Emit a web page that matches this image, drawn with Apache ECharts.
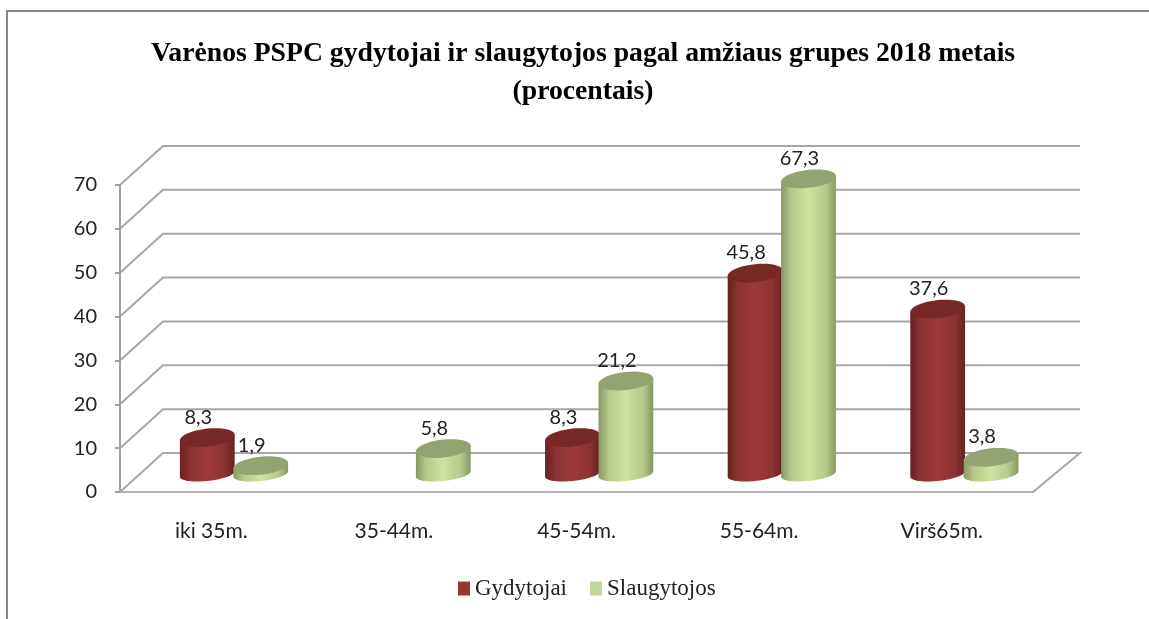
<!DOCTYPE html>
<html>
<head>
<meta charset="utf-8">
<style>
html, body { margin: 0; padding: 0; background: #fff; }
#main { width: 1149px; height: 619px; }
</style>
<script src="https://cdn.jsdelivr.net/npm/echarts@6/dist/echarts.min.js"></script>
</head>
<body>
<div id="main"></div>
<script>
var categories = ['iki 35m.', '35-44m.', '45-54m.', '55-64m.', 'Virš65m.'];
var gydytojai = [8.3, null, 8.3, 45.8, 37.6];
var slaugytojos = [1.9, 5.8, 21.2, 67.3, 3.8];
var yTicks = [0, 10, 20, 30, 40, 50, 60, 70];

var WALL_DX = 43, WALL_DX_RIGHT = 47, WALL_DY = -39;   // back wall offset from the front axis plane
var BAR_DX = 22, BAR_DY = -18;     // cylinders stand in the middle of the floor
var TILT = 0.1, CAP_RY = 9, BASE_RY = 7;
var LABEL_FONT = '20px Lato, sans-serif';

var myChart = echarts.init(document.getElementById('main'));

// sheared ellipse, so the side lines stay vertical at both ends
function ellipseArc(cx, cy, a, ry, from, to) {
    var pts = [];
    for (var i = 0; i <= 40; i++) {
        var t = from + (to - from) * i / 40;
        pts.push([cx + a * Math.cos(t), cy + ry * Math.sin(t) - TILT * a * Math.cos(t)]);
    }
    return pts;
}

function sideGradient(colors) {
    return {
        type: 'linear', x: 0, y: 0, x2: 1, y2: 0,
        colorStops: [
            { offset: 0, color: colors.dark },
            { offset: 0.18, color: colors.mid },
            { offset: 0.5, color: colors.light },
            { offset: 0.82, color: colors.mid },
            { offset: 1, color: colors.dark }
        ]
    };
}

function cylinder(side, colors) {
    return function (params, api) {
        var v = api.value(1);
        if (v === null || isNaN(v)) return null;
        var a = api.size([1, 0])[0] * 0.15;
        var base = api.coord([api.value(0), 0]);
        var top = api.coord([api.value(0), v]);
        var cx = base[0] + BAR_DX + side * a;
        var by = base[1] + BAR_DY;
        var ty = top[1] + BAR_DY;
        var frontArc = ellipseArc(cx, by, a, BASE_RY, Math.PI, 0);
        var topLeft = [cx - a, ty + TILT * a];
        var topRight = [cx + a, ty - TILT * a];
        return {
            type: 'group',
            children: [
                {
                    type: 'polygon',
                    shape: { points: [topLeft].concat(frontArc, [topRight]) },
                    style: { fill: sideGradient(colors) }
                },
                {
                    type: 'polygon',
                    shape: { points: ellipseArc(cx, ty, a, CAP_RY, 0, Math.PI * 2) },
                    style: { fill: colors.cap }
                },
                {
                    type: 'text',
                    z2: 10,
                    style: {
                        x: cx - 9,
                        y: ty - 20.5,
                        text: String(v).replace('.', ','),
                        fill: '#222',
                        font: LABEL_FONT,
                        align: 'center',
                        verticalAlign: 'middle'
                    }
                }
            ]
        };
    };
}

function toPairs(values) {
    return values.map(function (v, i) { return [i, v]; });
}

var option = {
    animation: false,
    backgroundColor: '#fff',
    title: {
        text: 'Varėnos PSPC gydytojai ir slaugytojos pagal amžiaus grupes 2018 metais\n(procentais)',
        left: 578,
        top: 30,
        textAlign: 'center',
        textStyle: {
            fontFamily: '"Liberation Serif", serif',
            fontWeight: 'bold',
            fontSize: 27.7,
            lineHeight: 38,
            color: '#000'
        }
    },
    legend: {
        data: ['Gydytojai', 'Slaugytojos'],
        left: 453,
        top: 572,
        icon: 'rect',
        itemWidth: 12,
        itemHeight: 14,
        itemGap: 23,
        selectedMode: false,
        textStyle: {
            fontFamily: '"Liberation Serif", serif',
            fontSize: 23,
            color: '#222'
        }
    },
    grid: { left: 120, top: 185, width: 913, height: 307 },
    xAxis: {
        type: 'category',
        data: categories,
        axisLine: { lineStyle: { color: '#b4b4b4', width: 2 } },
        axisTick: { length: 8, lineStyle: { color: '#a0a0a0', width: 2 } },
        axisLabel: { margin: 29, color: '#222', fontFamily: 'Lato, sans-serif', fontSize: 21 },
        splitLine: { show: false }
    },
    yAxis: {
        type: 'value',
        min: 0,
        max: 70,
        interval: 10,
        axisLine: { show: true, lineStyle: { color: '#a0a0a0', width: 2 } },
        axisTick: { show: true, length: 5, lineStyle: { color: '#a0a0a0', width: 2 } },
        axisLabel: { margin: 23, color: '#222', fontFamily: 'Lato, sans-serif', fontSize: 20 },
        splitLine: { show: false }
    },
    graphic: [
        {
            type: 'polyline',
            silent: true,
            shape: { points: [[7, 619], [7, 11], [1149, 11]] },
            style: { fill: null, stroke: '#868686', lineWidth: 2 }
        }
    ],
    series: [
        {
            name: 'walls',
            type: 'custom',
            silent: true,
            z: 1,
            encode: { y: 0 },
            data: yTicks.map(function (v) { return [v]; }),
            renderItem: function (params, api) {
                var v = api.value(0);
                var front = api.coord([0, v]);
                var lastX = api.coord([categories.length - 1, v])[0] + api.size([1, 0])[0] / 2;
                var firstX = api.coord([0, v])[0] - api.size([1, 0])[0] / 2;
                var points = [[firstX, front[1]], [firstX + WALL_DX, front[1] + WALL_DY], [lastX + WALL_DX_RIGHT, front[1] + WALL_DY]];
                if (v === 0) points.push([lastX, front[1]]);
                return {
                    type: 'polyline',
                    shape: { points: points },
                    style: { fill: null, stroke: '#a6a6a6', lineWidth: 2 }
                };
            }
        },
        {
            name: 'Gydytojai',
            type: 'custom',
            z: 3,
            itemStyle: { color: '#953735' },
            encode: { x: 0, y: 1 },
            data: toPairs(gydytojai),
            renderItem: cylinder(-0.95, { dark: '#662220', mid: '#8c3331', light: '#9e3a38', cap: '#782825' })
        },
        {
            name: 'Slaugytojos',
            type: 'custom',
            z: 3,
            itemStyle: { color: '#c3d69b' },
            encode: { x: 0, y: 1 },
            data: toPairs(slaugytojos),
            renderItem: cylinder(1, { dark: '#869762', mid: '#b5c88a', light: '#cfe29f', cap: '#93a472' })
        }
    ]
};

myChart.setOption(option);
</script>
</body>
</html>
